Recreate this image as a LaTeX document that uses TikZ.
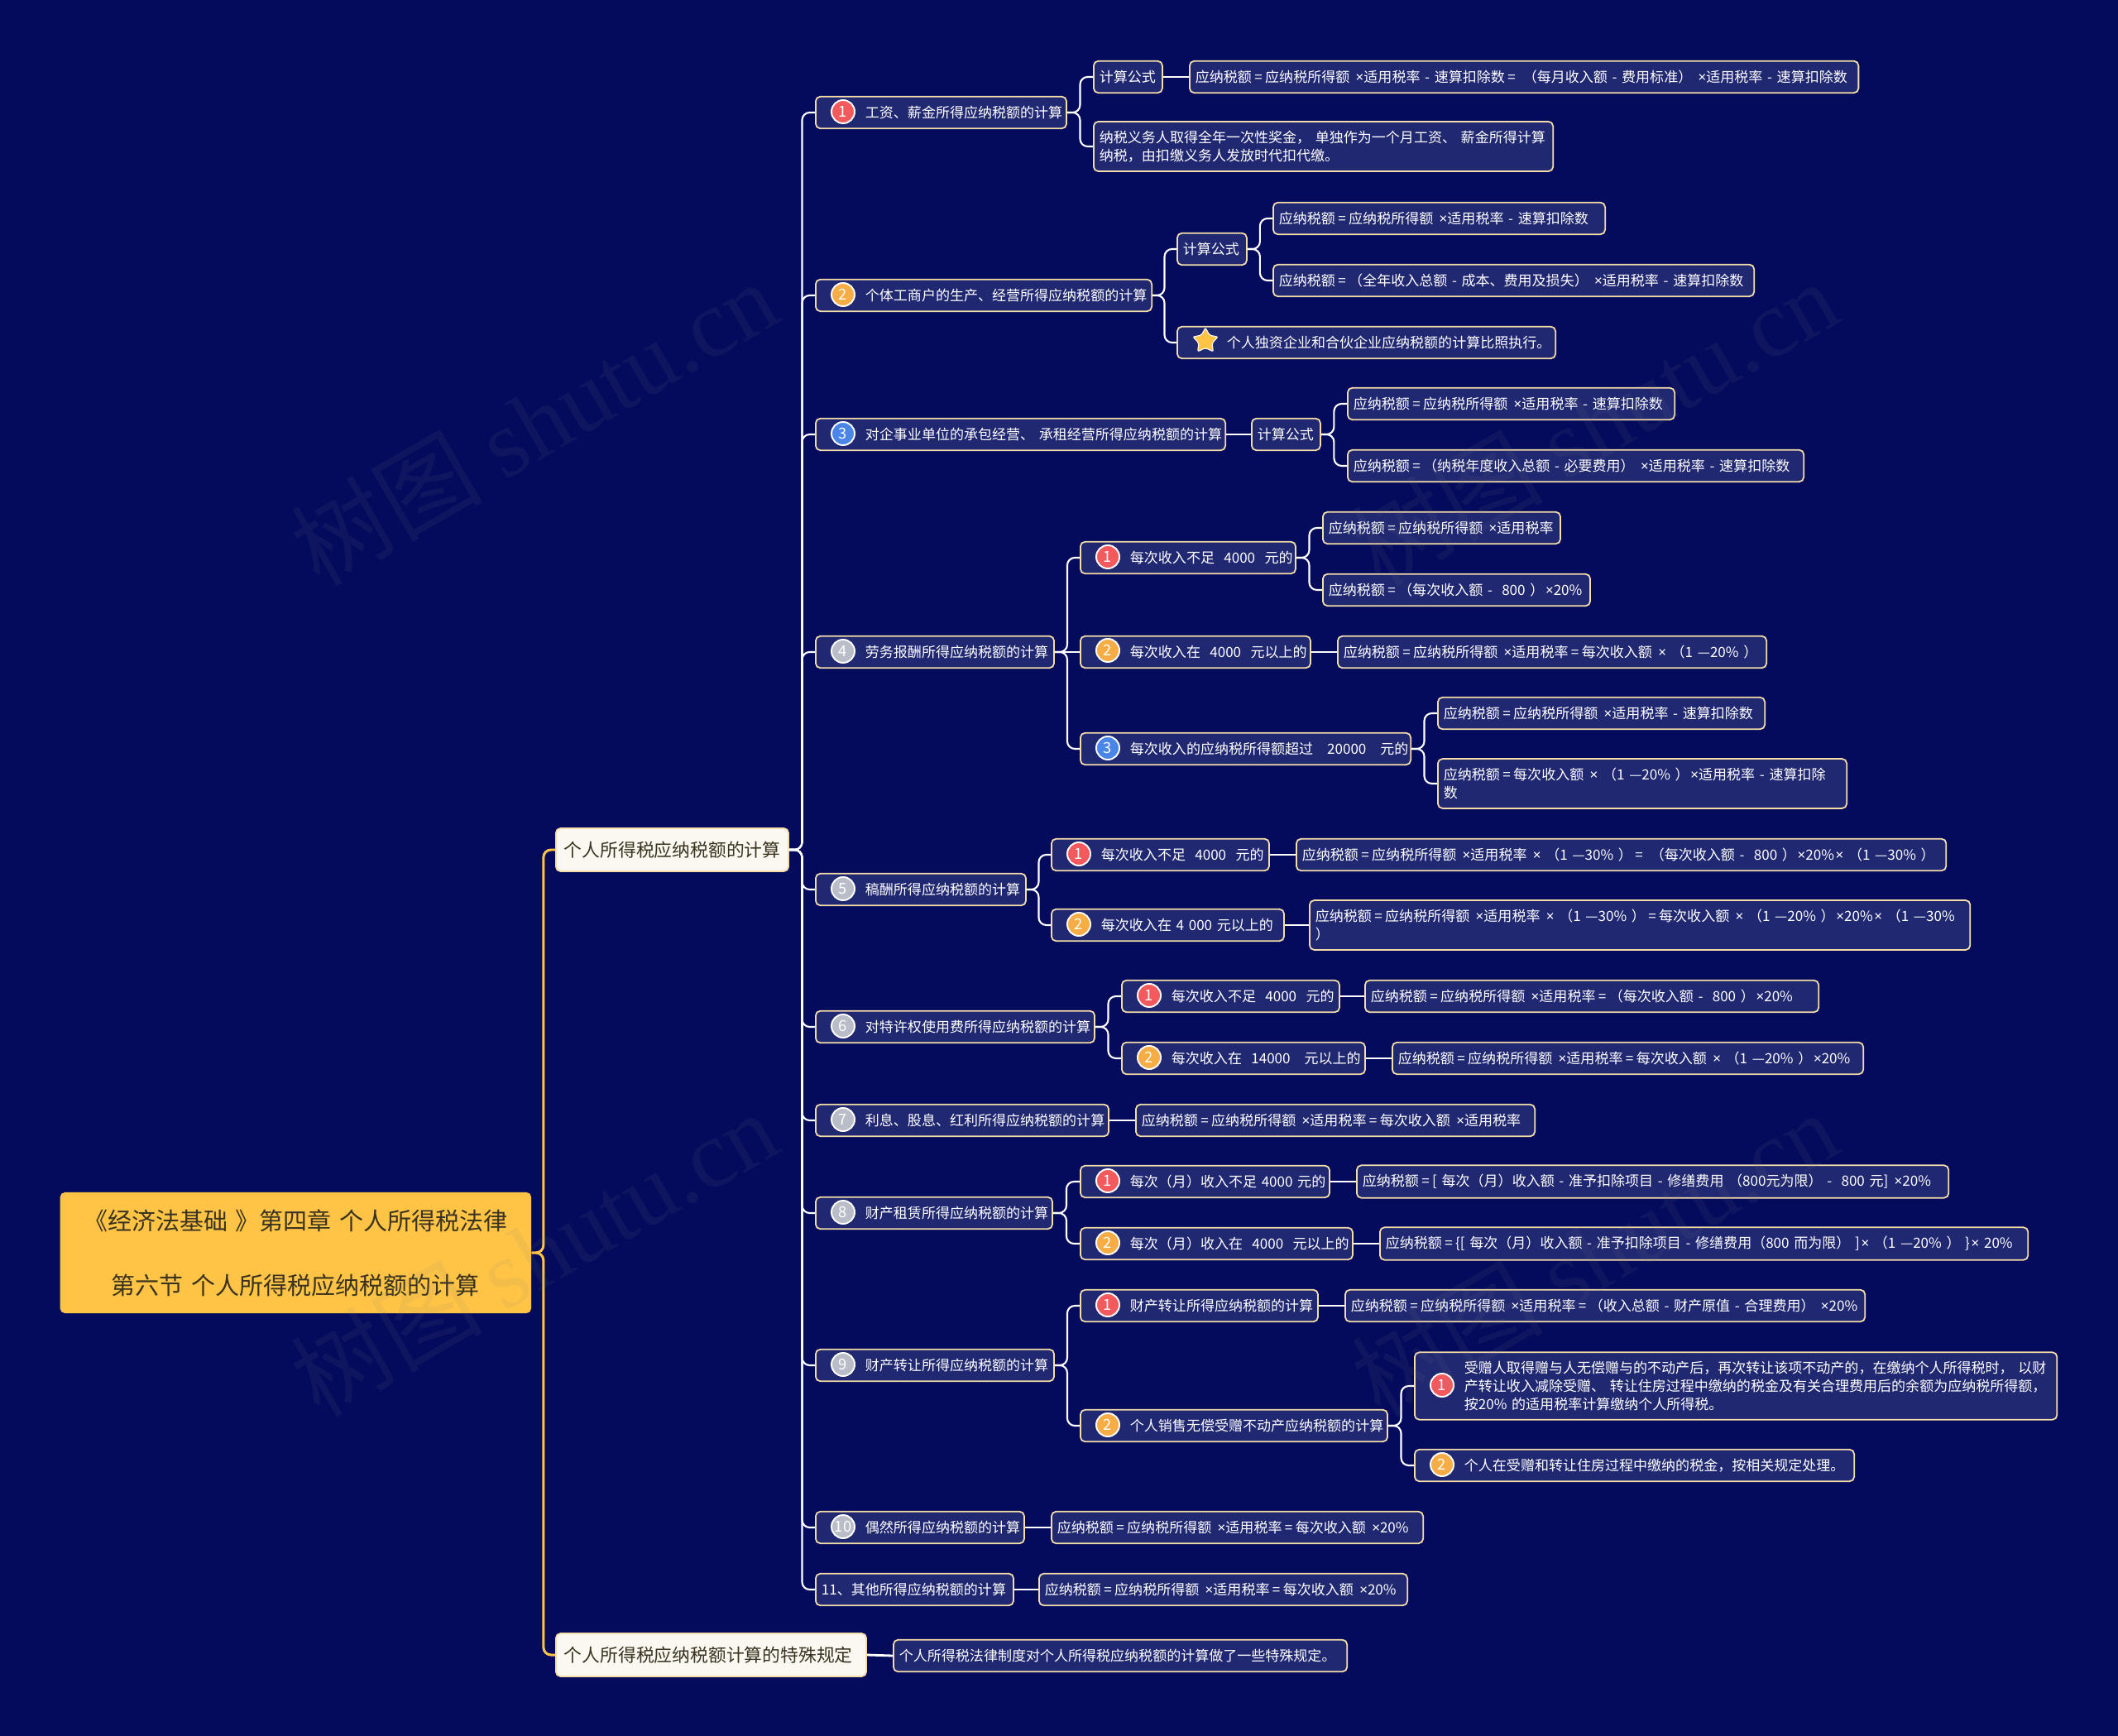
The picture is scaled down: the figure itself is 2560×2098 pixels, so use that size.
\documentclass[tikz,border=0pt]{standalone}
\usepackage{fontspec}
\usepackage{tikz}
\usetikzlibrary{
    calc,
    shapes.geometric
}
\setmainfont{Noto Sans CJK SC}
\newfontfamily\markfont{Liberation Serif}
\newfontfamily\latinfont{Noto Sans}
\newcommand{\tms}{\hspace{0.1em}{\latinfont ×}}
\newcommand{\eqs}{\hspace{0.2em}=\hspace{0.2em}}

\definecolor{bgnavy}{HTML}{040B5C}
\definecolor{boxnavy}{HTML}{212872}
\definecolor{edgetan}{HTML}{F5DDAA}
\definecolor{rootgold}{HTML}{FFC445}
\definecolor{paper}{HTML}{FBF8F2}
\definecolor{inkdark}{HTML}{3A3320}
\definecolor{dotred}{HTML}{F25A5E}
\definecolor{dotorange}{HTML}{F6AD45}
\definecolor{dotblue}{HTML}{4A86E8}
\definecolor{dotgrey}{HTML}{B9BDC7}

\tikzset{
    box/.style={draw=edgetan, fill=boxnavy, text=white, line width=0.5pt, rounded corners=1.6pt,
        anchor=west, align=left, inner xsep=0.07cm, inner ysep=0.11cm, minimum height=0.385cm, yshift=-0.01cm,
        font=\fontsize{4.84}{6.2}\selectfont},
    badged/.style={box, execute at begin node=\hspace*{0.53cm}},
    topic/.style={draw=edgetan, fill=paper, text=inkdark, line width=0.5pt, rounded corners=1.6pt,
        anchor=west, align=left, inner xsep=0.10cm, inner ysep=0.02cm, minimum height=0.52cm,
        font=\fontsize{6.2}{7.5}\selectfont},
    rootbox/.style={fill=rootgold, text=inkdark, rounded corners=1.6pt, anchor=west, align=center,
        inner xsep=0.08cm, minimum height=1.46cm, font=\fontsize{8.25}{22.2}\selectfont},
    badge/.style={circle, draw=white, line width=0.55pt, inner sep=0pt, minimum size=0.28cm,
        text=white, font=\fontsize{5.2}{5.2}\selectfont},
    elbow/.style={rounded corners=2.6pt, to path={-| ($(\tikztostart)!0.5!(\tikztotarget)$) |- (\tikztotarget)}},
    link/.style={draw=white, line width=0.6pt, elbow},
    direct/.style={draw=white, line width=0.8pt},
    mainlink/.style={draw=rootgold, line width=0.85pt, elbow},
    watermark/.style={rotate=30, text=gray, text opacity=0.09, font=\fontsize{33}{33}\selectfont}
}

\begin{document}
\begin{tikzpicture}[x=0.01cm, y=-0.01cm]

% Background
\path[use as bounding box, fill=bgnavy] (0,0) rectangle (2560,2098);

% Root and the two topics
\node[rootbox, text width=5.53cm] (root) at (72,1514) {《经济法基础 》第四章 个人所得税法律\\第六节 个人所得税应纳税额的计算};
\node[topic, text width=2.61cm] (sumcalc) at (671,1027) {个人所得税应纳税额的计算};
\node[topic, text width=3.55cm] (special) at (671,2000) {个人所得税应纳税额计算的特殊规定};
\node[box, text width=5.34cm] (specialnote) at (1079,2000) {个人所得税法律制度对个人所得税应纳税额的计算做了一些特殊规定。};

% Wages
\node[badged, text width=2.89cm] (tax1) at (985,135) {工资、薪金所得应纳税额的计算};
\node[box, text width=0.69cm] (tax1a) at (1321,92) {计算公式};
\node[box, text width=7.94cm] (tax1aa) at (1437,92) {应纳税额\eqs{}应纳税所得额 \tms{}适用税率 - 速算扣除数\eqs{} （每月收入额 - 费用标准） \tms{}适用税率 - 速算扣除数};
\node[box, text width=5.41cm] (tax1b) at (1321,176) {纳税义务人取得全年一次性奖金， 单独作为一个月工资、 薪金所得计算\\纳税，由扣缴义务人发放时代扣代缴。};

% Individual businesses
\node[badged, text width=3.92cm] (tax2) at (985,356) {个体工商户的生产、经营所得应纳税额的计算};
\node[box, text width=0.70cm] (tax2a) at (1422,300) {计算公式};
\node[box, text width=3.87cm] (tax2aa) at (1538,263) {应纳税额\eqs{}应纳税所得额 \tms{}适用税率 - 速算扣除数};
\node[box, text width=5.67cm] (tax2ab) at (1538,338) {应纳税额\eqs{}（全年收入总额 - 成本、费用及损失） \tms{}适用税率 - 速算扣除数};
\node[badged, text width=4.43cm] (tax2b) at (1422,413) {个人独资企业和合伙企业应纳税额的计算比照执行。};

% Contracted operation
\node[badged, text width=4.81cm] (tax3) at (985,524) {对企事业单位的承包经营、~承租经营所得应纳税额的计算};
\node[box, text width=0.69cm] (tax3a) at (1512,524) {计算公式};
\node[box, text width=3.81cm] (tax3aa) at (1628,487) {应纳税额\eqs{}应纳税所得额 \tms{}适用税率 - 速算扣除数};
\node[box, text width=5.37cm] (tax3ab) at (1628,562) {应纳税额\eqs{}（纳税年度收入总额 - 必要费用） \tms{}适用税率 - 速算扣除数};

% Labour remuneration
\node[badged, text width=2.74cm] (tax4) at (985,787) {劳务报酬所得应纳税额的计算};
\node[badged, text width=2.46cm] (tax4a) at (1305,673) {每次收入不足~~4000~~元的};
\node[box, text width=2.73cm] (tax4aa) at (1598,637) {应纳税额\eqs{}应纳税所得额 \tms{}适用税率};
\node[box, text width=3.09cm] (tax4ab) at (1598,712) {应纳税额\eqs{}（每次收入额 -~~800 ）\tms{}20\%};
\node[badged, text width=2.64cm] (tax4b) at (1305,787) {每次收入在~~4000~~元以上的};
\node[box, text width=5.04cm] (tax4ba) at (1616,787) {应纳税额\eqs{}应纳税所得额 \tms{}适用税率\eqs{}每次收入额 \tms{} （1 —20\% ）};
\node[badged, text width=3.85cm] (tax4c) at (1305,904) {每次收入的应纳税所得额超过~~~20000~~~元的};
\node[box, text width=3.81cm] (tax4ca) at (1737,861) {应纳税额\eqs{}应纳税所得额 \tms{}适用税率 - 速算扣除数};
\node[box, text width=4.80cm] (tax4cb) at (1737,946) {应纳税额\eqs{}每次收入额 \tms{} （1 —20\% ）\tms{}适用税率 - 速算扣除\\数};

% Author remuneration
\node[badged, text width=2.40cm] (tax5) at (985,1074) {稿酬所得应纳税额的计算};
\node[badged, text width=2.49cm] (tax5a) at (1270,1032) {每次收入不足~~4000~~元的};
\node[box, text width=7.71cm] (tax5aa) at (1566,1032) {应纳税额\eqs{}应纳税所得额 \tms{}适用税率 \tms{} （1 —30\% ）\eqs{} （每次收入额 -~~800 ）\tms{}20\%\tms{} （1 —30\% ）};
\node[badged, text width=2.67cm] (tax5b) at (1270,1117) {每次收入在 4 000 元以上的};
\node[box, text width=7.84cm] (tax5ba) at (1582,1117) {应纳税额\eqs{}应纳税所得额 \tms{}适用税率 \tms{} （1 —30\% ）\eqs{}每次收入额 \tms{} （1 —20\% ）\tms{}20\%\tms{} （1~—30\%\\）};

% Royalties
\node[badged, text width=3.23cm] (tax6) at (985,1240) {对特许权使用费所得应纳税额的计算};
\node[badged, text width=2.49cm] (tax6a) at (1355,1203) {每次收入不足~~4000~~元的};
\node[box, text width=5.34cm] (tax6aa) at (1649,1203) {应纳税额\eqs{}应纳税所得额 \tms{}适用税率\eqs{}（每次收入额 -~~800 ）\tms{}20\%};
\node[badged, text width=2.80cm] (tax6b) at (1355,1278) {每次收入在~~14000~~~元以上的};
\node[box, text width=5.55cm] (tax6ba) at (1682,1278) {应纳税额\eqs{}应纳税所得额 \tms{}适用税率\eqs{}每次收入额 \tms{} （1 —20\% ）\tms{}20\%};

% Interest
\node[badged, text width=3.40cm] (tax7) at (985,1353) {利息、股息、红利所得应纳税额的计算};
\node[box, text width=4.68cm] (tax7a) at (1372,1353) {应纳税额\eqs{}应纳税所得额 \tms{}适用税率\eqs{}每次收入额 \tms{}适用税率};

% Leasing
\node[badged, text width=2.72cm] (tax8) at (985,1465) {财产租赁所得应纳税额的计算};
\node[badged, text width=2.87cm] (tax8a) at (1305,1427) {每次（月）收入不足~4000~元的};
\node[box, text width=7.01cm] (tax8aa) at (1639,1427) {应纳税额\eqs{}[ 每次（月）收入额 - 准予扣除项目 - 修缮费用 （800元为限） -~~800 元] \tms{}20\%};
\node[badged, text width=3.15cm] (tax8b) at (1305,1502) {每次（月）收入在~~4000~~元以上的};
\node[box, text width=7.69cm] (tax8ba) at (1667,1502) {应纳税额\eqs{}\{[ 每次（月）收入额 - 准予扣除项目 - 修缮费用（800 而为限） ]\tms{} （1 —20\% ） \}\tms{} 20\%};

% Transfer of property
\node[badged, text width=2.74cm] (tax9) at (985,1649) {财产转让所得应纳税额的计算};
\node[badged, text width=2.73cm] (tax9a) at (1305,1577) {财产转让所得应纳税额的计算};
\node[box, text width=6.14cm] (tax9aa) at (1625,1577) {应纳税额\eqs{}应纳税所得额 \tms{}适用税率\eqs{}（收入总额 - 财产原值 - 合理费用） \tms{}20\%};
\node[badged, text width=3.57cm] (tax9b) at (1305,1722) {个人销售无偿受赠不动产应纳税额的计算};
\node[badged, text width=7.62cm] (tax9ba) at (1709,1674) {受赠人取得赠与人无偿赠与的不动产后，再次转让该项不动产的，在缴纳个人所得税时， 以财\\\hspace*{0.53cm}产转让收入减除受赠、 转让住房过程中缴纳的税金及有关合理费用后的余额为应纳税所得额，\\\hspace*{0.53cm}按20\% 的适用税率计算缴纳个人所得税。};
\node[badged, text width=5.17cm] (tax9bb) at (1709,1770) {个人在受赠和转让住房过程中缴纳的税金，按相关规定处理。};

% Occasional and other income
\node[badged, text width=2.38cm] (tax10) at (985,1845) {偶然所得应纳税额的计算};
\node[box, text width=4.35cm] (tax10a) at (1270,1845) {应纳税额\eqs{}应纳税所得额 \tms{}适用税率\eqs{}每次收入额 \tms{}20\%};
\node[box, text width=2.25cm] (tax11) at (985,1920) {11、其他所得应纳税额的计算};
\node[box, text width=4.31cm] (tax11a) at (1255,1920) {应纳税额\eqs{}应纳税所得额 \tms{}适用税率\eqs{}每次收入额 \tms{}20\%};

% Number badges
\node[badge, fill=dotred] (dot1) at (1019,135) {1};
\node[badge, fill=dotorange] (dot2) at (1019,356) {2};
\node[badge, fill=dotblue] (dot3) at (1019,524) {3};
\node[badge, fill=dotgrey] (dot4) at (1019,787) {4};
\node[badge, fill=dotgrey] (dot5) at (1019,1074) {5};
\node[badge, fill=dotgrey] (dot6) at (1019,1240) {6};
\node[badge, fill=dotgrey] (dot7) at (1019,1353) {7};
\node[badge, fill=dotgrey] (dot8) at (1019,1465) {8};
\node[badge, fill=dotgrey] (dot9) at (1019,1649) {9};
\node[badge, fill=dotgrey] (dot10) at (1019,1845) {10};
\node[badge, fill=dotred] (dot4a) at (1339,673) {1};
\node[badge, fill=dotorange] (dot4b) at (1339,786) {2};
\node[badge, fill=dotblue] (dot4c) at (1339,904) {3};
\node[badge, fill=dotred] (dot5a) at (1304,1032) {1};
\node[badge, fill=dotorange] (dot5b) at (1304,1117) {2};
\node[badge, fill=dotred] (dot6a) at (1389,1203) {1};
\node[badge, fill=dotorange] (dot6b) at (1389,1278) {2};
\node[badge, fill=dotred] (dot8a) at (1339,1427) {1};
\node[badge, fill=dotorange] (dot8b) at (1339,1502) {2};
\node[badge, fill=dotred] (dot9a) at (1339,1577) {1};
\node[badge, fill=dotorange] (dot9b) at (1339,1722) {2};
\node[badge, fill=dotred] (dot9ba) at (1743,1674) {1};
\node[badge, fill=dotorange] (dot9bb) at (1743,1770) {2};

% Star
\node[star, star points=5, star point ratio=1.9, draw=white, fill=rootgold, line width=0.3pt, inner sep=0pt, minimum size=0.32cm, rounded corners=0.6pt] (star2b) at (1457,412) {};

% Connectors
\draw[mainlink] (root.east) to (sumcalc.west);
\draw[mainlink] (root.east) to (special.west);
\draw[direct] (special.east) -- (specialnote.west);
\draw[link] (sumcalc.east) to (tax1.west);
\draw[link] (sumcalc.east) to (tax2.west);
\draw[link] (sumcalc.east) to (tax3.west);
\draw[link] (sumcalc.east) to (tax4.west);
\draw[link] (sumcalc.east) to (tax5.west);
\draw[link] (sumcalc.east) to (tax6.west);
\draw[link] (sumcalc.east) to (tax7.west);
\draw[link] (sumcalc.east) to (tax8.west);
\draw[link] (sumcalc.east) to (tax9.west);
\draw[link] (sumcalc.east) to (tax10.west);
\draw[link] (sumcalc.east) to (tax11.west);
\draw[link] (tax1.east) to (tax1a.west);
\draw[link] (tax1.east) to (tax1b.west);
\draw[direct] (tax1a.east) -- (tax1aa.west);
\draw[link] (tax2.east) to (tax2a.west);
\draw[link] (tax2.east) to (tax2b.west);
\draw[link] (tax2a.east) to (tax2aa.west);
\draw[link] (tax2a.east) to (tax2ab.west);
\draw[direct] (tax3.east) -- (tax3a.west);
\draw[link] (tax3a.east) to (tax3aa.west);
\draw[link] (tax3a.east) to (tax3ab.west);
\draw[link] (tax4.east) to (tax4a.west);
\draw[direct] (tax4.east) -- (tax4b.west);
\draw[link] (tax4.east) to (tax4c.west);
\draw[link] (tax4a.east) to (tax4aa.west);
\draw[link] (tax4a.east) to (tax4ab.west);
\draw[direct] (tax4b.east) -- (tax4ba.west);
\draw[link] (tax4c.east) to (tax4ca.west);
\draw[link] (tax4c.east) to (tax4cb.west);
\draw[link] (tax5.east) to (tax5a.west);
\draw[link] (tax5.east) to (tax5b.west);
\draw[direct] (tax5a.east) -- (tax5aa.west);
\draw[direct] (tax5b.east) -- (tax5ba.west);
\draw[link] (tax6.east) to (tax6a.west);
\draw[link] (tax6.east) to (tax6b.west);
\draw[direct] (tax6a.east) -- (tax6aa.west);
\draw[direct] (tax6b.east) -- (tax6ba.west);
\draw[direct] (tax7.east) -- (tax7a.west);
\draw[link] (tax8.east) to (tax8a.west);
\draw[link] (tax8.east) to (tax8b.west);
\draw[direct] (tax8a.east) -- (tax8aa.west);
\draw[direct] (tax8b.east) -- (tax8ba.west);
\draw[link] (tax9.east) to (tax9a.west);
\draw[link] (tax9.east) to (tax9b.west);
\draw[direct] (tax9a.east) -- (tax9aa.west);
\draw[link] (tax9b.east) to (tax9ba.west);
\draw[link] (tax9b.east) to (tax9bb.west);
\draw[direct] (tax10.east) -- (tax10a.west);
\draw[direct] (tax11.east) -- (tax11a.west);

% Watermarks
\node[watermark] (mark1) at (645,510) {树图 {\markfont shutu.cn}};
\node[watermark] (mark2) at (1927,510) {树图 {\markfont shutu.cn}};
\node[watermark] (mark3) at (645,1514) {树图 {\markfont shutu.cn}};
\node[watermark] (mark4) at (1927,1514) {树图 {\markfont shutu.cn}};

\end{tikzpicture}
\end{document}
